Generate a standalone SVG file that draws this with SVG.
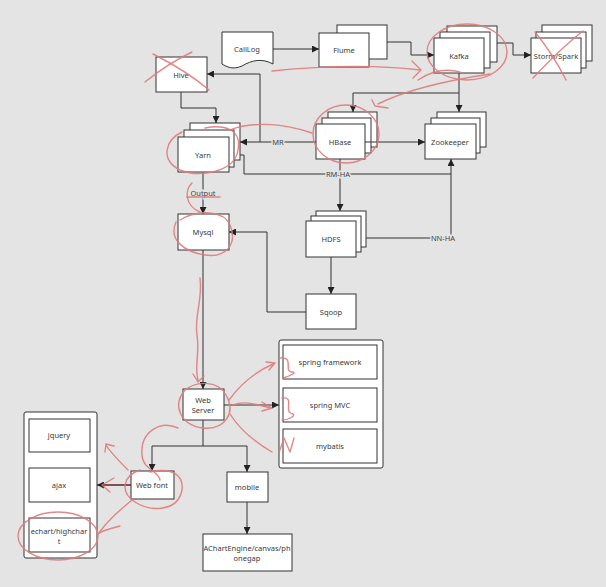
<svg xmlns="http://www.w3.org/2000/svg" width="606" height="587" viewBox="0 0 606 587">
<style>
.bg{fill:#e4e4e4}
.n{fill:#fff;stroke:#333;stroke-width:1}
.t{font-family:"Noto Sans","DejaVu Sans",sans-serif;font-size:7.5px;fill:#3a3a3a;text-anchor:middle;dominant-baseline:central}
.c{fill:none;stroke:#333;stroke-width:1}
.lb{font-family:"Noto Sans","DejaVu Sans",sans-serif;font-size:7.5px;fill:#444;text-anchor:middle;dominant-baseline:central;stroke:#e4e4e4;stroke-width:3;paint-order:stroke}
.r{fill:none;stroke:#e07a7a;stroke-width:1.4;stroke-linecap:round;stroke-linejoin:round;opacity:0.9}
</style>
<defs>
<marker id="a" viewBox="0 0 8 8" refX="8" refY="4" markerWidth="7" markerHeight="7" orient="auto" markerUnits="userSpaceOnUse">
<path d="M0,0 L8,4 L0,8 Z" fill="#222"/>
</marker>
</defs>
<rect class="bg" x="0" y="0" width="606" height="587"/>

<g id="calllog"><path class="n" d="M222,32 H273 V64 C262,58 252,60 242,66 C233,70 227,67 222,64 Z"/><text class="t" x="247" y="49">CallLog</text></g>
<g id="flume"><rect class="n" x="337" y="25" width="50" height="34"/><rect class="n" x="319" y="33" width="50" height="34"/><text class="t" x="344" y="50">Flume</text></g>
<g id="kafka"><rect class="n" x="447" y="26" width="50" height="36"/><rect class="n" x="440" y="32" width="50" height="36"/><rect class="n" x="434" y="38" width="50" height="35"/><text class="t" x="459" y="56">Kafka</text></g>
<g id="storm"><rect class="n" x="542" y="25" width="50" height="36"/><rect class="n" x="536" y="32" width="50" height="36"/><rect class="n" x="531" y="38" width="50" height="35"/><text class="t" x="556" y="56">Storm/Spark</text></g>
<g id="hive"><rect class="n" x="156" y="57" width="51" height="35"/><text class="t" x="181" y="75">Hive</text></g>
<g id="yarn"><rect class="n" x="190" y="123" width="50" height="37"/><rect class="n" x="184" y="130" width="50" height="37"/><rect class="n" x="178" y="137" width="51" height="35"/><text class="t" x="203" y="155">Yarn</text></g>
<g id="hbase"><rect class="n" x="328" y="112" width="49" height="35"/><rect class="n" x="322" y="118" width="49" height="35"/><rect class="n" x="316" y="124" width="49" height="35"/><text class="t" x="340" y="142">HBase</text></g>
<g id="zookeeper"><rect class="n" x="437" y="112" width="49" height="35"/><rect class="n" x="431" y="118" width="49" height="35"/><rect class="n" x="425" y="124" width="51" height="35"/><text class="t" x="450" y="142">Zookeeper</text></g>
<g id="hdfs"><rect class="n" x="316" y="211" width="50" height="36"/><rect class="n" x="311" y="216" width="50" height="36"/><rect class="n" x="306" y="221" width="50" height="36"/><text class="t" x="331" y="239">HDFS</text></g>
<g id="mysql"><rect class="n" x="178" y="214" width="51" height="36"/><text class="t" x="203" y="232">Mysql</text></g>
<g id="sqoop"><rect class="n" x="306" y="294" width="50" height="35"/><text class="t" x="331" y="312">Sqoop</text></g>
<g id="webserver"><rect class="n" x="183" y="389" width="41" height="31"/><text class="t" x="203" y="400">Web</text><text class="t" x="203" y="410">Server</text></g>
<g id="backend"><rect class="n" x="279" y="340" width="104" height="128" rx="2"/>
<rect class="n" x="283" y="345" width="94" height="34"/><text class="t" x="330" y="362">spring framework</text>
<rect class="n" x="283" y="388" width="94" height="34"/><text class="t" x="330" y="405">spring MVC</text>
<rect class="n" x="283" y="429" width="94" height="34"/><text class="t" x="330" y="446">mybatis</text></g>
<g id="frontend"><rect class="n" x="24" y="412" width="73" height="146" rx="2"/>
<rect class="n" x="29" y="419" width="61" height="33"/><text class="t" x="59" y="435">jquery</text>
<rect class="n" x="29" y="468" width="61" height="34"/><text class="t" x="59" y="485">ajax</text>
<rect class="n" x="29" y="518" width="61" height="34"/><text class="t" x="59" y="531">echart/highchar</text><text class="t" x="59" y="541">t</text></g>
<g id="webfont"><rect class="n" x="131" y="471" width="43" height="28"/><text class="t" x="152" y="485">Web font</text></g>
<g id="mobile"><rect class="n" x="227" y="472" width="41" height="30"/><text class="t" x="247" y="487">mobile</text></g>
<g id="achart"><rect class="n" x="203" y="534" width="89" height="37"/><text class="t" x="247" y="548">AChartEngine/canvas/ph</text><text class="t" x="247" y="558">onegap</text></g>

<g id="connectors">
<path class="c" d="M273,49 H319" marker-end="url(#a)"/>
<path class="c" d="M387,42 H411 V55 H434" marker-end="url(#a)"/>
<path class="c" d="M497,43 H513 V55 H531" marker-end="url(#a)"/>
<path class="c" d="M459,73 V112" marker-end="url(#a)"/>
<path class="c" d="M459,93 H353 V112" marker-end="url(#a)"/>
<path class="c" d="M316,142 H240" marker-end="url(#a)"/>
<path class="c" d="M260,142 V74 H207" marker-end="url(#a)"/>
<path class="c" d="M181,92 V108 H216 V123" marker-end="url(#a)"/>
<path class="c" d="M365,142 H425" marker-end="url(#a)"/>
<path class="c" d="M240,155 H244 V174 H451"/>
<path class="c" d="M366,238 H451 V159" marker-end="url(#a)"/>
<path class="c" d="M340,159 V211" marker-end="url(#a)"/>
<path class="c" d="M203,172 V214" marker-end="url(#a)"/>
<path class="c" d="M306,312 H267 V232 H229" marker-end="url(#a)"/>
<path class="c" d="M331,257 V294" marker-end="url(#a)"/>
<path class="c" d="M203,250 V389" marker-end="url(#a)"/>
<path class="c" d="M224,405 H279" marker-end="url(#a)"/>
<path class="c" d="M203,420 V446 H152 V471" marker-end="url(#a)"/>
<path class="c" d="M203,446 H247 V472" marker-end="url(#a)"/>
<path class="c" d="M131,485 H97" marker-end="url(#a)" style="stroke:#5a2020;stroke-width:1.4"/>
<path class="c" d="M247,502 V534" marker-end="url(#a)"/>
<text class="lb" x="278" y="142">MR</text>
<text class="lb" x="338" y="174">RM-HA</text>
<text class="lb" x="443" y="238">NN-HA</text>
<text class="lb" x="203" y="193">Output</text>
</g>

<g id="annotations">
<path class="r" d="M145,82 C160,70 175,60 192,52"/>
<path class="r" d="M153,54 C175,65 195,78 209,90"/>
<path class="r" d="M533,78 C548,62 565,45 583,31"/>
<path class="r" d="M535,32 C548,48 558,64 566,80"/>
<path class="r" d="M272,71 C320,66 370,64 420,70 M412,61 L421,70 L413,78"/>
<ellipse class="r" cx="467" cy="52" rx="40" ry="28"/>
<path class="r" d="M490,74 C450,80 410,88 378,104 M372,100 L375,106 L388,108"/>
<path class="r" d="M418,80 C430,72 445,68 460,72"/>
<ellipse class="r" cx="346" cy="134" rx="33" ry="29"/>
<path class="r" d="M182,132 C165,140 160,160 180,170 C200,178 235,172 238,150 C242,130 225,124 205,128"/>
<path class="r" d="M230,130 C250,122 280,122 312,133"/>
<path class="r" d="M192,183 C185,190 184,205 200,212"/>
<path class="r" d="M187,197 H220"/>
<path class="r" d="M176,222 C168,240 185,252 205,255 C225,258 238,245 230,225 C225,212 200,208 180,220"/>
<path class="r" d="M200,278 C203,300 194,315 197,335 C200,355 194,365 198,380 M193,374 L198,382 L204,376"/>
<path class="r" d="M185,390 C172,405 180,425 203,428 C226,430 236,412 226,395 C218,380 195,380 183,392"/>
<path class="r" d="M229,400 C240,385 255,372 273,364 M266,362 L275,363 L269,370"/>
<path class="r" d="M280,358 C295,356 283,372 292,372 C298,372 290,376 283,378"/>
<path class="r" d="M233,405 C245,400 258,405 270,408 M262,402 L272,408 L262,411"/>
<path class="r" d="M282,398 C296,396 282,412 293,414 C296,416 288,420 282,420"/>
<path class="r" d="M230,414 C240,430 255,442 272,452 M280,450 L284,438 L290,452 L294,438"/>
<path class="r" d="M178,428 C160,420 140,432 142,455 C143,470 158,470 160,480"/>
<path class="r" d="M140,470 C122,476 120,492 135,502 C150,512 178,512 182,490 C184,472 168,468 150,472"/>
<path class="r" d="M128,470 C118,460 110,452 106,445 M105,452 L106,444 L114,446"/>
<path class="r" d="M114,478 L102,485 L110,492"/>
<path class="r" d="M132,500 C120,510 108,520 98,534 C103,530 112,528 120,526"/>
<ellipse class="r" cx="58" cy="536" rx="40" ry="24"/>
</g>
</svg>
